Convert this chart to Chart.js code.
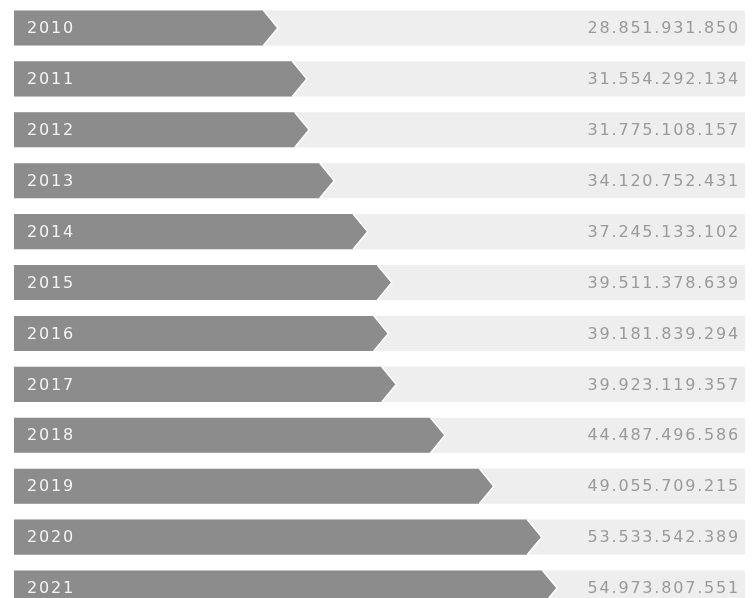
<!DOCTYPE html>
<html>
<head>
<meta charset="utf-8">
<script src="https://cdn.jsdelivr.net/npm/chart.js@4/dist/chart.umd.min.js"></script>
<style>
  html, body { margin: 0; padding: 0; background: #fff; overflow: hidden; }
  #wrap { width: 755px; height: 616px; }
</style>
</head>
<body>
<div id="wrap"><canvas id="budget"></canvas></div>
<script>
'use strict';

var years = ['2010', '2011', '2012', '2013', '2014', '2015', '2016', '2017', '2018', '2019', '2020', '2021'];
var amounts = [
	28851931850, 31554292134, 31775108157, 34120752431, 37245133102, 39511378639,
	39181839294, 39923119357, 44487496586, 49055709215, 53533542389, 54973807551
];

var BAR_GREY = '#8c8c8c';
var TRACK_GREY = '#eeeeee';
var AXIS_MIN = 4200000000;
var AXIS_MAX = 72600000000;

// 28851931850 -> "28.851.931.850"
function dotted(n) {
	return String(n).replace(/\B(?=(\d{3})+(?!\d))/g, '.');
}

// Light track behind each row plus an arrow-ended bar drawn from the bar element.
var arrowBars = {
	id: 'arrowBars',
	beforeDatasetDraw: function (chart, args) {
		var ctx = chart.ctx;
		var area = chart.chartArea;
		var meta = args.meta;

		meta.data.forEach(function (bar) {
			var p = bar.getProps(['x', 'y', 'base', 'height'], true);
			var left = Math.max(p.base, area.left);
			var top = p.y - p.height / 2;
			var bottom = p.y + p.height / 2;
			var depth = p.height * 0.4;

			ctx.save();
			ctx.fillStyle = TRACK_GREY;
			ctx.fillRect(left, top, area.right - left, p.height);

			ctx.beginPath();
			ctx.moveTo(left, top);
			ctx.lineTo(p.x - depth, top);
			ctx.lineTo(p.x, p.y);
			ctx.lineTo(p.x - depth, bottom);
			ctx.lineTo(left, bottom);
			ctx.closePath();
			ctx.fillStyle = BAR_GREY;
			ctx.fill();

			ctx.beginPath();
			ctx.moveTo(p.x - depth, top);
			ctx.lineTo(p.x + 0.5, p.y);
			ctx.lineTo(p.x - depth, bottom);
			ctx.strokeStyle = '#ffffff';
			ctx.lineWidth = 1.5;
			ctx.stroke();
			ctx.restore();
		});
		return false;
	},
	afterDatasetsDraw: function (chart) {
		var ctx = chart.ctx;
		var area = chart.chartArea;
		var meta = chart.getDatasetMeta(0);

		ctx.save();
		ctx.font = '16px "DejaVu Sans"';
		ctx.textBaseline = 'middle';
		ctx.letterSpacing = '1.8px';
		meta.data.forEach(function (bar, i) {
			var p = bar.getProps(['y', 'base'], true);
			var left = Math.max(p.base, area.left);
			ctx.fillStyle = '#f4f4f4';
			ctx.textAlign = 'left';
			ctx.fillText(years[i], left + 13, p.y + 1);

			ctx.fillStyle = '#9a9a9a';
			ctx.textAlign = 'right';
			ctx.fillText(dotted(amounts[i]), area.right - 5, p.y + 1);
		});
		ctx.restore();
	}
};

new Chart(document.getElementById('budget').getContext('2d'), {
	type: 'bar',
	data: {
		labels: years,
		datasets: [{
			label: 'Amount',
			data: amounts,
			base: AXIS_MIN,
			backgroundColor: BAR_GREY,
			borderWidth: 0,
			barPercentage: 1,
			categoryPercentage: 0.69
		}]
	},
	options: {
		indexAxis: 'y',
		responsive: true,
		maintainAspectRatio: false,
		animation: false,
		layout: {
			padding: { left: 14, right: 10, top: 2.5, bottom: 2.5 }
		},
		plugins: {
			legend: { display: false },
			tooltip: { enabled: false }
		},
		scales: {
			x: {
				display: false,
				min: AXIS_MIN,
				max: AXIS_MAX
			},
			y: {
				display: false
			}
		}
	},
	plugins: [arrowBars]
});
</script>
</body>
</html>
